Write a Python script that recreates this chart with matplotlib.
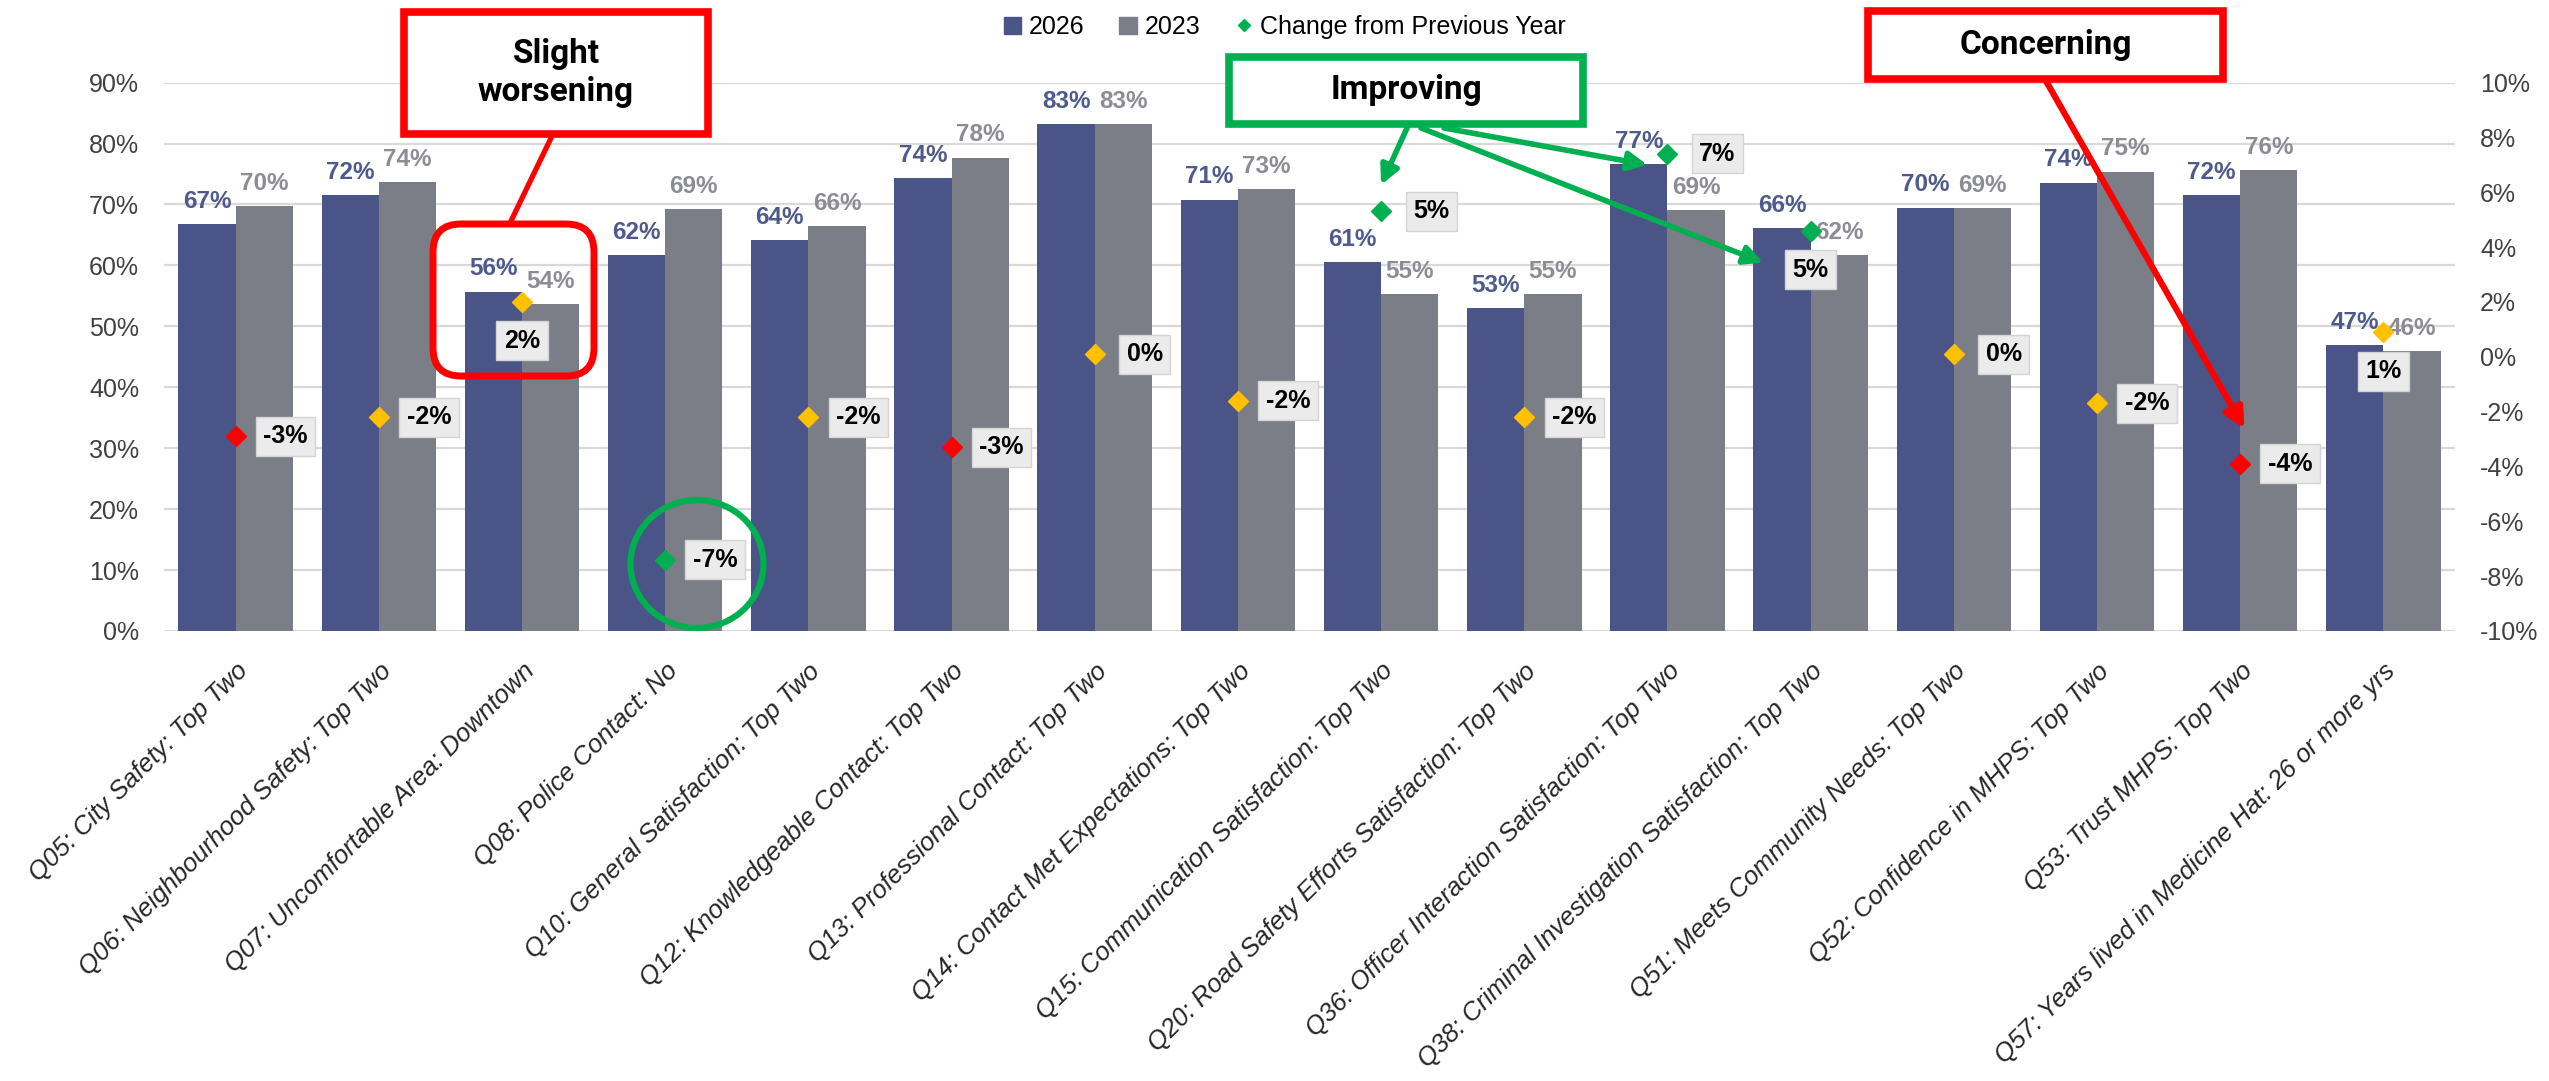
import numpy as np
import matplotlib.pyplot as plt
from matplotlib.lines import Line2D
from matplotlib.patches import Patch, Rectangle, FancyBboxPatch, Ellipse
from matplotlib.ticker import MultipleLocator, FuncFormatter

plt.rcParams['font.family'] = ['Liberation Sans', 'DejaVu Sans']

# Data
questions = [
    'Q05: City Safety: Top Two',
    'Q06: Neighbourhood Safety: Top Two',
    'Q07: Uncomfortable Area: Downtown',
    'Q08: Police Contact: No',
    'Q10: General Satisfaction: Top Two',
    'Q12: Knowledgeable Contact: Top Two',
    'Q13: Professional Contact: Top Two',
    'Q14: Contact Met Expectations: Top Two',
    'Q15: Communication Satisfaction: Top Two',
    'Q20: Road Safety Efforts Satisfaction: Top Two',
    'Q36: Officer Interaction Satisfaction: Top Two',
    'Q38: Criminal Investigation Satisfaction: Top Two',
    'Q51: Meets Community Needs: Top Two',
    'Q52: Confidence in MHPS: Top Two',
    'Q53: Trust MHPS: Top Two',
    'Q57: Years lived in Medicine Hat: 26 or more yrs',
]
pct_2026 = np.array([66.8, 71.6, 55.7, 61.7, 64.1, 74.4, 83.2, 70.8,
                     60.6, 53.0, 76.6, 66.2, 69.5, 73.6, 71.6, 46.9])
pct_2023 = np.array([69.8, 73.7, 53.6, 69.2, 66.4, 77.7, 83.2, 72.6,
                     55.3, 55.3, 69.1, 61.7, 69.4, 75.4, 75.6, 45.9])
change = np.array([-2.9, -2.2, 2.0, -7.4, -2.2, -3.3, 0.1, -1.6,
                   5.3, -2.2, 7.4, 4.6, 0.1, -1.7, -3.9, 0.9])
status = ['worse', 'neutral', 'neutral', 'better', 'neutral', 'worse', 'neutral', 'neutral',
          'better', 'neutral', 'better', 'better', 'neutral', 'neutral', 'worse', 'neutral']

BLUE = '#4a5487'
GRAY = '#7b7e87'
BLUE_TXT = '#4f5a8c'
GRAY_TXT = '#8c8d94'
status_col = {'worse': '#ff0000', 'neutral': '#ffc000', 'better': '#00b050'}
RED = '#ff0000'
GREEN = '#00b050'

W, H = 2549, 1081
fig = plt.figure(figsize=(W / 100, H / 100), dpi=100)


def fx(xp):
    return xp / W


def fy(yp):
    return 1 - yp / H


pct_fmt = FuncFormatter(lambda v, _: f'{round(v * 100)}%')

ax = fig.add_axes([fx(164), fy(631), (2455 - 164) / W, (631 - 82.6) / H])
x = np.arange(len(questions))

ax.bar(x - 0.2, pct_2026 / 100, 0.4, color=BLUE, zorder=2)
ax.bar(x + 0.2, pct_2023 / 100, 0.4, color=GRAY, zorder=2)

for xi, v in zip(x, pct_2026):
    ax.annotate(f'{v:.0f}%', (xi - 0.2, v / 100), xytext=(0, 8), textcoords='offset points',
                ha='center', va='bottom', fontsize=17.5, fontweight='bold', color=BLUE_TXT)
for xi, v in zip(x, pct_2023):
    ax.annotate(f'{v:.0f}%', (xi + 0.2, v / 100), xytext=(0, 8), textcoords='offset points',
                ha='center', va='bottom', fontsize=17.5, fontweight='bold', color=GRAY_TXT)

ax.set_xlim(-0.5, len(questions) - 0.5)
ax.set_ylim(0, 0.9)
ax.yaxis.set_major_locator(MultipleLocator(0.1))
ax.yaxis.set_major_formatter(pct_fmt)
ax.grid(axis='y', color='#d9d9d9', lw=1.6, zorder=0)
ax.set_axisbelow(True)
for s in ax.spines.values():
    s.set_visible(False)
ax.tick_params(axis='y', length=0, pad=18, labelsize=18, labelcolor='#404040')
ax.tick_params(axis='x', length=0, pad=20)
ax.set_xticks(x)
ax.set_xticklabels(questions, rotation=45, ha='right', rotation_mode='anchor',
                   fontsize=18.5, fontstyle='italic', color='#262626')

# change from previous year (secondary axis)
ax2 = ax.twinx()
ax2.set_ylim(-0.1, 0.1)
ax2.yaxis.set_major_locator(MultipleLocator(0.02))
ax2.yaxis.set_major_formatter(pct_fmt)
for s in ax2.spines.values():
    s.set_visible(False)
ax2.tick_params(axis='y', length=0, pad=18, labelsize=18, labelcolor='#404040')

for xi, c, st in zip(x, change, status):
    ax2.plot(xi, c / 100, marker='D', ms=10, color=status_col[st], ls='', zorder=3)

below = {2, 11, 15}
for xi, c in zip(x, change):
    off = (0, -28) if xi in below else (36, 0)
    ax2.annotate(f'{c:.0f}%', (xi, c / 100), xytext=off, textcoords='offset points',
                 ha='center', va='center', fontsize=18, fontweight='bold', color='black',
                 bbox=dict(boxstyle='square,pad=0.3', fc='#ebebeb', ec='#d4d4d4', lw=1))

# legend
handles = [Patch(color=BLUE), Patch(color=GRAY),
           Line2D([], [], marker='D', ls='', color=GREEN, ms=6)]
fig.legend(handles, ['2026', '2023', 'Change from Previous Year'], loc='center',
           bbox_to_anchor=(0.504, 0.975), ncol=3, frameon=False, fontsize=18,
           handlelength=0.7, handleheight=0.7, handletextpad=0.3, columnspacing=1.4)


# callout boxes
def callout(x0, y0, x1, y1, text, col):
    fig.add_artist(Rectangle((fx(x0), fy(y1)), (x1 - x0) / W, (y1 - y0) / H,
                             transform=fig.transFigure, fc='white', ec=col, lw=5.5, zorder=5))
    fig.text(fx((x0 + x1) / 2), fy((y0 + y1) / 2), text, ha='center', va='center',
             fontsize=24, fontweight='bold', color='black', zorder=6,
             family=['Roboto', 'DejaVu Sans'], linespacing=1.2)


callout(404, 12, 708, 134, 'Slight\nworsening', RED)
callout(1229, 57, 1583, 124, 'Improving', GREEN)
callout(1868, 11, 2223, 79, 'Concerning', RED)

# slight worsening pointer + frame around Q07
fig.add_artist(Line2D([fx(552), fx(511)], [fy(136), fy(221)], transform=fig.transFigure,
                      color=RED, lw=3.8, zorder=4))
fig.add_artist(FancyBboxPatch((fx(433), fy(376)), (594 - 433) / W, (376 - 224) / H,
                              boxstyle='round,pad=0,rounding_size=0.011',
                              mutation_aspect=W / H, transform=fig.transFigure,
                              fc='none', ec=RED, lw=5, zorder=4))

# green circle around Q08 change
fig.add_artist(Ellipse((fx(697), fy(564)), 133 / W, 128 / H, transform=fig.transFigure,
                       fc='none', ec=GREEN, lw=4.5, zorder=4))

# improving arrows
arrow_g = dict(arrowstyle='-|>', color=GREEN, lw=4, mutation_scale=28, shrinkA=0, shrinkB=0)
for (tx, ty), (sx, sy) in [((8.0, 0.0627), (1407, 128)),
                           ((9.86, 0.070), (1444, 128)),
                           ((10.67, 0.0343), (1421, 128))]:
    ax2.annotate('', xy=(tx, ty), xytext=(fx(sx), fy(sy)), textcoords='figure fraction',
                 arrowprops=arrow_g)

# concerning arrow
ax2.annotate('', xy=(14.03, -0.0262), xytext=(fx(2046), fy(81)), textcoords='figure fraction',
             arrowprops=dict(arrowstyle='-|>', color=RED, lw=4.5, mutation_scale=30,
                             shrinkA=0, shrinkB=0))

fig.savefig('out.png', dpi=100)
